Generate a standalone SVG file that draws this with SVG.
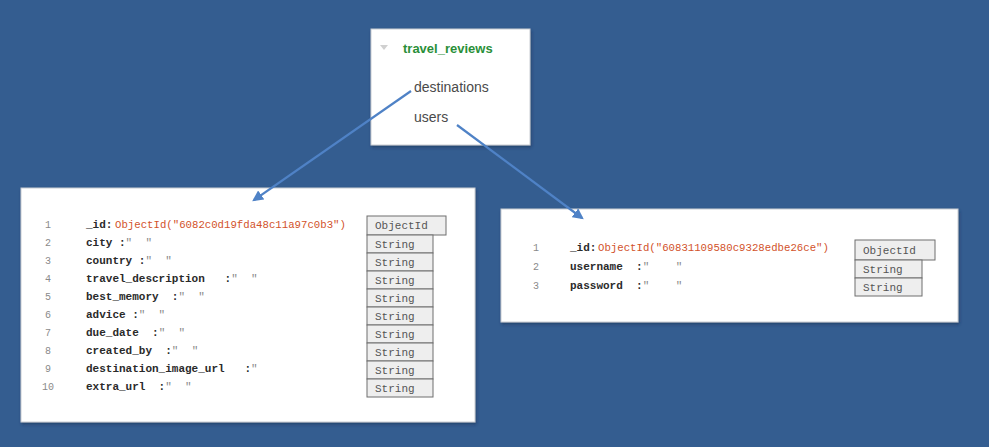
<svg xmlns="http://www.w3.org/2000/svg" width="989" height="447" viewBox="0 0 989 447">
<defs>
<style>
.panel{fill:#ffffff;stroke:#c8ccd2;stroke-width:1}
.num{font-family:"Liberation Mono",monospace;font-size:10px;fill:#8a8a8a}
.code{font-family:"Liberation Mono",monospace;font-size:11px;fill:#2a2a2a;font-weight:bold;white-space:pre}
.q{fill:#8a8a8a;font-weight:normal}
.oid{fill:#d2522a;font-weight:normal;font-size:10.7px}
.tbox{fill:#eeeeee;stroke:#6e6e6e;stroke-width:1}
.ttxt{font-family:"Liberation Mono",monospace;font-size:11px;fill:#555}
.conn{stroke:#4f82c6;stroke-width:2.2;fill:none}
</style>
<marker id="ah" viewBox="0 0 10 10" refX="8" refY="5" markerWidth="5" markerHeight="5" orient="auto">
<path d="M0,0 L10,5 L0,10 z" fill="#4f82c6"/>
</marker>
<filter id="sh" x="-5%" y="-5%" width="110%" height="115%">
<feDropShadow dx="1" dy="2" stdDeviation="1.5" flood-color="#1c3658" flood-opacity="0.6"/>
</filter>
</defs>
<rect width="989" height="447" fill="#345d90"/>

<g id="travel_reviews">
<rect class="panel" x="371" y="29" width="159" height="116" filter="url(#sh)"/>
<path d="M380,45 L388,45 L384,50 z" fill="#d0d0d0"/>
<text x="403" y="53" font-family="Liberation Sans,Arial,sans-serif" font-size="13" font-weight="bold" fill="#2a8f38">travel_reviews</text>
<text x="414" y="92" font-family="Liberation Sans,Arial,sans-serif" font-size="14" fill="#4a4a4a">destinations</text>
<text x="414" y="122" font-family="Liberation Sans,Arial,sans-serif" font-size="14" fill="#4a4a4a">users</text>
</g>

<g id="destinations">
<rect class="panel" x="21" y="188" width="454" height="234" filter="url(#sh)"/>
<text class="num" x="45" y="228">1</text>
<text class="num" x="45" y="246">2</text>
<text class="num" x="45" y="264">3</text>
<text class="num" x="45" y="282">4</text>
<text class="num" x="45" y="300">5</text>
<text class="num" x="45" y="318">6</text>
<text class="num" x="45" y="336">7</text>
<text class="num" x="45" y="354">8</text>
<text class="num" x="45" y="372">9</text>
<text class="num" x="42" y="390">10</text>
<text class="code" x="86" y="228">_id:<tspan class="oid" x="115">ObjectId("6082c0d19fda48c11a97c0b3")</tspan></text>
<text class="code" x="86" y="246">city :<tspan class="q">"  "</tspan></text>
<text class="code" x="86" y="264">country :<tspan class="q">"  "</tspan></text>
<text class="code" x="86" y="282">travel_description   :<tspan class="q">"  "</tspan></text>
<text class="code" x="86" y="300">best_memory  :<tspan class="q">"  "</tspan></text>
<text class="code" x="86" y="318">advice :<tspan class="q">"  "</tspan></text>
<text class="code" x="86" y="336">due_date  :<tspan class="q">"  "</tspan></text>
<text class="code" x="86" y="354">created_by  :<tspan class="q">"  "</tspan></text>
<text class="code" x="86" y="372">destination_image_url   :<tspan class="q">"</tspan></text>
<text class="code" x="86" y="390">extra_url  :<tspan class="q">"  "</tspan></text>
<rect class="tbox" x="367" y="216" width="79" height="19"/>
<text class="ttxt" x="375" y="229">ObjectId</text>
<rect class="tbox" x="367" y="235" width="66" height="18"/>
<text class="ttxt" x="375" y="248">String</text>
<rect class="tbox" x="367" y="253" width="66" height="18"/>
<text class="ttxt" x="375" y="266">String</text>
<rect class="tbox" x="367" y="271" width="66" height="18"/>
<text class="ttxt" x="375" y="284">String</text>
<rect class="tbox" x="367" y="289" width="66" height="18"/>
<text class="ttxt" x="375" y="302">String</text>
<rect class="tbox" x="367" y="307" width="66" height="18"/>
<text class="ttxt" x="375" y="320">String</text>
<rect class="tbox" x="367" y="325" width="66" height="18"/>
<text class="ttxt" x="375" y="338">String</text>
<rect class="tbox" x="367" y="343" width="66" height="18"/>
<text class="ttxt" x="375" y="356">String</text>
<rect class="tbox" x="367" y="361" width="66" height="18"/>
<text class="ttxt" x="375" y="374">String</text>
<rect class="tbox" x="367" y="379" width="66" height="18"/>
<text class="ttxt" x="375" y="392">String</text>
</g>

<g id="users">
<rect class="panel" x="501" y="209" width="457" height="113" filter="url(#sh)"/>
<text class="num" x="533" y="251">1</text>
<text class="num" x="533" y="270">2</text>
<text class="num" x="533" y="289">3</text>
<text class="code" x="570" y="251">_id:<tspan class="oid" x="598">ObjectId("60831109580c9328edbe26ce")</tspan></text>
<text class="code" x="570" y="270">username  :<tspan class="q">"    "</tspan></text>
<text class="code" x="570" y="289">password  :<tspan class="q">"    "</tspan></text>
<rect class="tbox" x="855" y="240" width="80" height="20"/>
<text class="ttxt" x="863" y="254">ObjectId</text>
<rect class="tbox" x="855" y="260" width="67" height="18"/>
<text class="ttxt" x="863" y="273">String</text>
<rect class="tbox" x="855" y="278" width="67" height="18"/>
<text class="ttxt" x="863" y="291">String</text>
</g>

<g id="connectors">
<line class="conn" x1="411" y1="91" x2="254" y2="200" marker-end="url(#ah)"/>
<line class="conn" x1="457" y1="125" x2="582" y2="218" marker-end="url(#ah)"/>
</g>
</svg>
